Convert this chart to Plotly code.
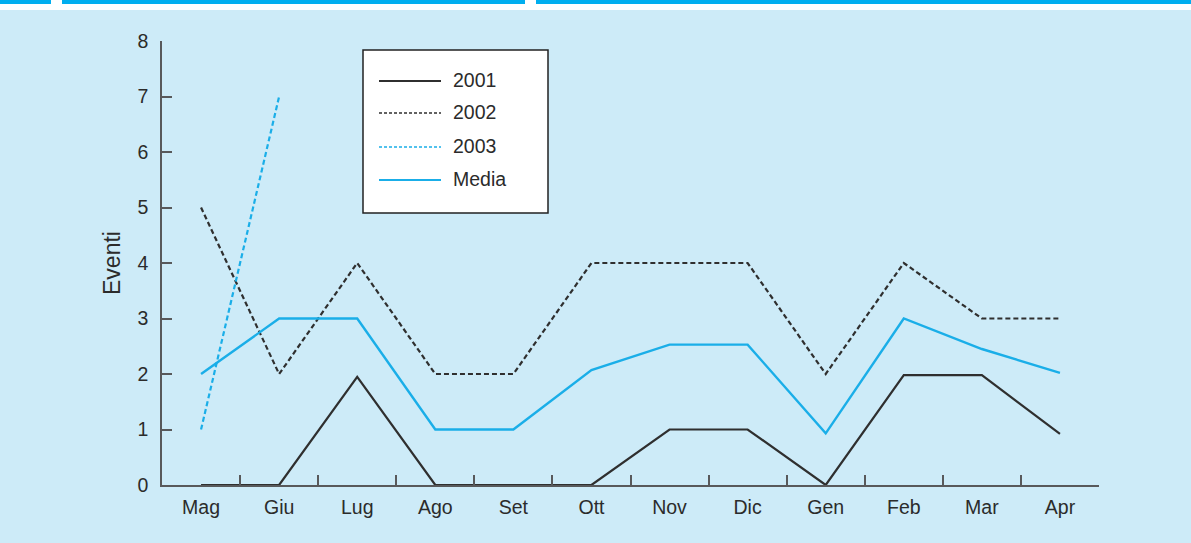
import plotly.graph_objects as go

months = ["Mag", "Giu", "Lug", "Ago", "Set", "Ott", "Nov", "Dic", "Gen", "Feb", "Mar", "Apr"]
y2001 = [0, 0, 1.95, 0, 0, 0, 1, 1, 0, 1.98, 1.98, 0.92]
y2002 = [5, 2, 4, 2, 2, 4, 4, 4, 2, 4, 3, 3]
y2003 = [1, 7, None, None, None, None, None, None, None, None, None, None]
media = [2, 3, 3, 1, 1, 2.07, 2.53, 2.53, 0.93, 3, 2.45, 2.02]
y_ticks = [0, 1, 2, 3, 4, 5, 6, 7, 8]
series_names = ["2001", "2002", "2003", "Media"]

DARK = "#2f2f2f"
BLUE = "#1aaee8"
BG = "#cdebf8"
AXIS = "#58595b"

styles = [
    dict(color=DARK, width=2.2),
    dict(color=DARK, width=2.2, dash="5px,3px"),
    dict(color=BLUE, width=2.2, dash="5px,3px"),
    dict(color=BLUE, width=2.4),
]

fig = go.Figure()
for name, ys, st in zip(series_names, [y2001, y2002, y2003, media], styles):
    fig.add_trace(go.Scatter(x=months, y=ys, name=name, mode="lines",
                             line=st, cliponaxis=False, showlegend=False))

L, R, T, B = 162, 92, 41, 58
W, H = 1191, 543
pw = W - L - R
ph = H - T - B

def px_x(p):
    return (p - L) / pw

def px_y(p):
    return (H - B - p) / ph

shapes = [
    dict(type="rect", xref="paper", yref="paper", x0=px_x(0), x1=px_x(W), y0=px_y(10), y1=px_y(0),
         fillcolor="white", line=dict(width=0), layer="below"),
    dict(type="rect", xref="paper", yref="paper", x0=px_x(0), x1=px_x(51), y0=px_y(4), y1=px_y(0),
         fillcolor="#00aeef", line=dict(width=0), layer="below"),
    dict(type="rect", xref="paper", yref="paper", x0=px_x(62), x1=px_x(525), y0=px_y(4), y1=px_y(0),
         fillcolor="#00aeef", line=dict(width=0), layer="below"),
    dict(type="rect", xref="paper", yref="paper", x0=px_x(536), x1=px_x(W), y0=px_y(4), y1=px_y(0),
         fillcolor="#00aeef", line=dict(width=0), layer="below"),
    # legend box
    dict(type="rect", xref="paper", yref="paper", x0=px_x(363), x1=px_x(548), y0=px_y(213), y1=px_y(50),
         fillcolor="white", line=dict(color="#222222", width=1.5), layer="above"),
]

annotations = []
legend_rows = [81, 113, 147, 180]
for name, st, row in zip(series_names, styles, legend_rows):
    lst = dict(st)
    if "dash" in lst:
        lst["dash"] = "3px,2px"
    lst["width"] = 1.6 if "dash" in st else 2
    shapes.append(dict(type="line", xref="paper", yref="paper",
                       x0=px_x(379), x1=px_x(441), y0=px_y(row), y1=px_y(row),
                       line=lst, layer="above"))
    annotations.append(dict(text=name, xref="paper", yref="paper", x=px_x(451), y=px_y(row - 1),
                            xanchor="left", yanchor="middle", showarrow=False,
                            font=dict(size=19.5, color="#2b2b2b")))

fig.update_layout(
    width=W, height=H,
    margin=dict(l=L, r=R, t=T, b=B),
    paper_bgcolor=BG, plot_bgcolor=BG,
    font=dict(family="Liberation Sans, Arial, sans-serif", size=19.5, color="#2b2b2b"),
    shapes=shapes,
    annotations=annotations,
    showlegend=False,
    xaxis=dict(type="category", categoryorder="array", categoryarray=months,
               range=[-0.5, 11.5], tickson="boundaries", ticks="inside", ticklen=10,
               tickcolor=AXIS, tickwidth=1.5, showline=True, linecolor=AXIS, linewidth=1.5,
               showgrid=False, zeroline=False, ticklabelstandoff=4, fixedrange=True),
    yaxis=dict(range=[0, 8], tickvals=y_ticks, ticks="inside", ticklen=10,
               tickcolor=AXIS, tickwidth=1.5, showline=True, linecolor=AXIS, linewidth=1.5,
               showgrid=False, zeroline=False, ticklabelstandoff=8,
               title=dict(text="Eventi", standoff=10), fixedrange=True),
)

fig.write_html("out.html", config={"displayModeBar": False},
               post_script="document.body.style.margin='0';")
